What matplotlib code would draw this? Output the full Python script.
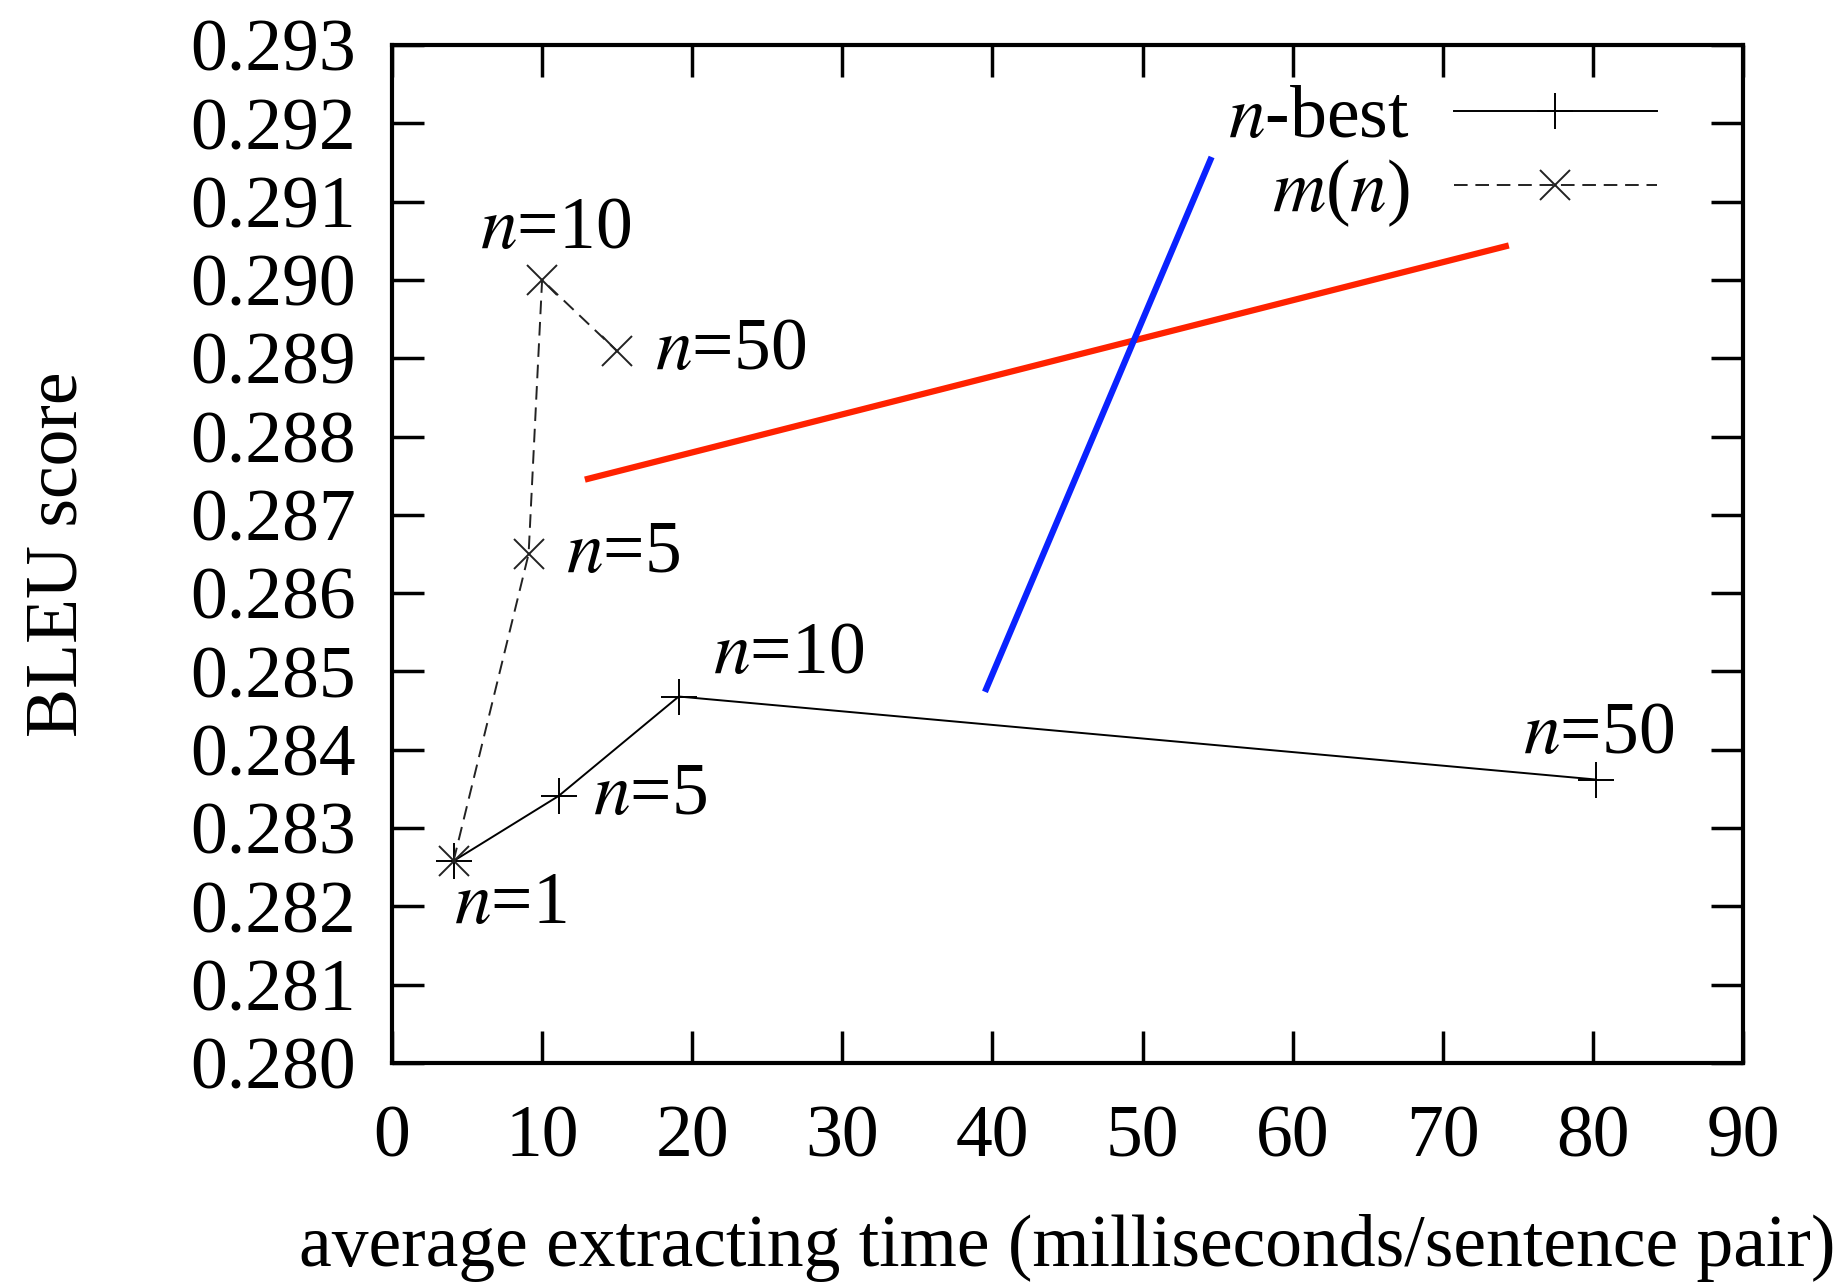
import matplotlib
matplotlib.use("Agg")
import matplotlib.pyplot as plt

# ---- data ----
nbest_x = [4.1, 11.1, 19.1, 80.2]
nbest_y = [0.28258, 0.28341, 0.28468, 0.28362]
nbest_labels = ["1", "5", "10", "50"]

mn_x = [4.1, 9.1, 10.0, 15.0]
mn_y = [0.28258, 0.28650, 0.29000, 0.28909]
mn_labels = ["1", "5", "10", "50"]

red_x = [12.85, 74.4]
red_y = [0.28745, 0.29044]
blue_x = [39.5, 54.6]
blue_y = [0.28474, 0.29157]

xticks = [0, 10, 20, 30, 40, 50, 60, 70, 80, 90]
yticks = [0.280, 0.281, 0.282, 0.283, 0.284, 0.285, 0.286, 0.287,
          0.288, 0.289, 0.290, 0.291, 0.292, 0.293]

plt.rcParams['font.family'] = ['Liberation Serif', 'DejaVu Serif']
plt.rcParams['mathtext.fontset'] = 'stix'

FS = 53

fig = plt.figure(figsize=(18.45, 12.87), dpi=100)
ax = fig.add_axes([392/1845, 1 - 1063/1287, (1743-392)/1845, (1063-45)/1287])

ax.plot(nbest_x, nbest_y, color='black', lw=1.4, marker='+', markersize=26,
        markeredgewidth=1.4, label=r'$n$-best')
ax.plot(mn_x, mn_y, color='#222222', lw=1.4, linestyle=(0, (7, 4)), marker='x',
        markersize=22, markeredgewidth=1.4, label=r'$m$($n$)')

ax.plot(red_x, red_y, color='#ff2200', lw=4.5, solid_capstyle='butt')
ax.plot(blue_x, blue_y, color='#0a22ff', lw=4.5, solid_capstyle='butt')

# point annotations (offsets in points)
def lab(x, y, s, dx, dy, ha='left', va='center'):
    ax.annotate(r'$n$=' + s, (x, y), xytext=(dx, dy), textcoords='offset points',
                fontsize=FS, ha=ha, va=va)

lab(nbest_x[0], nbest_y[0], nbest_labels[0], 0, -32, ha='left')
lab(nbest_x[1], nbest_y[1], nbest_labels[1], 25, 0)
lab(nbest_x[2], nbest_y[2], nbest_labels[2], 25, 30)
lab(nbest_x[3], nbest_y[3], nbest_labels[3], 2, 32, ha='center')
lab(mn_x[1], mn_y[1], mn_labels[1], 27, 0)
lab(mn_x[2], mn_y[2], mn_labels[2], 10, 36, ha='center')
lab(mn_x[3], mn_y[3], mn_labels[3], 27, 0)

ax.set_xlim(0, 90)
ax.set_ylim(0.280, 0.293)
ax.set_xticks(xticks)
ax.set_yticks(yticks)
ax.set_xticklabels([str(t) for t in xticks])
ax.set_yticklabels([f"{t:.3f}" for t in yticks])

ax.tick_params(direction='in', length=23, width=2.5, top=True, right=True,
               labelsize=FS, color='black')
ax.tick_params(axis='y', pad=26)
ax.tick_params(axis='x', pad=30)
for s in ax.spines.values():
    s.set_linewidth(3.0)

ax.set_xlabel('average extracting time (milliseconds/sentence pair)', fontsize=FS, labelpad=30)
ax.set_ylabel('BLEU score', fontsize=FS, labelpad=70)

leg = ax.legend(loc='upper right', bbox_to_anchor=(0.936, 0.96), frameon=False,
                fontsize=FS, markerfirst=False, handlelength=2.75, handletextpad=0.6,
                labelspacing=0.05, borderpad=0, borderaxespad=0, alignment='right')

fig.savefig('out.png', dpi=100)
